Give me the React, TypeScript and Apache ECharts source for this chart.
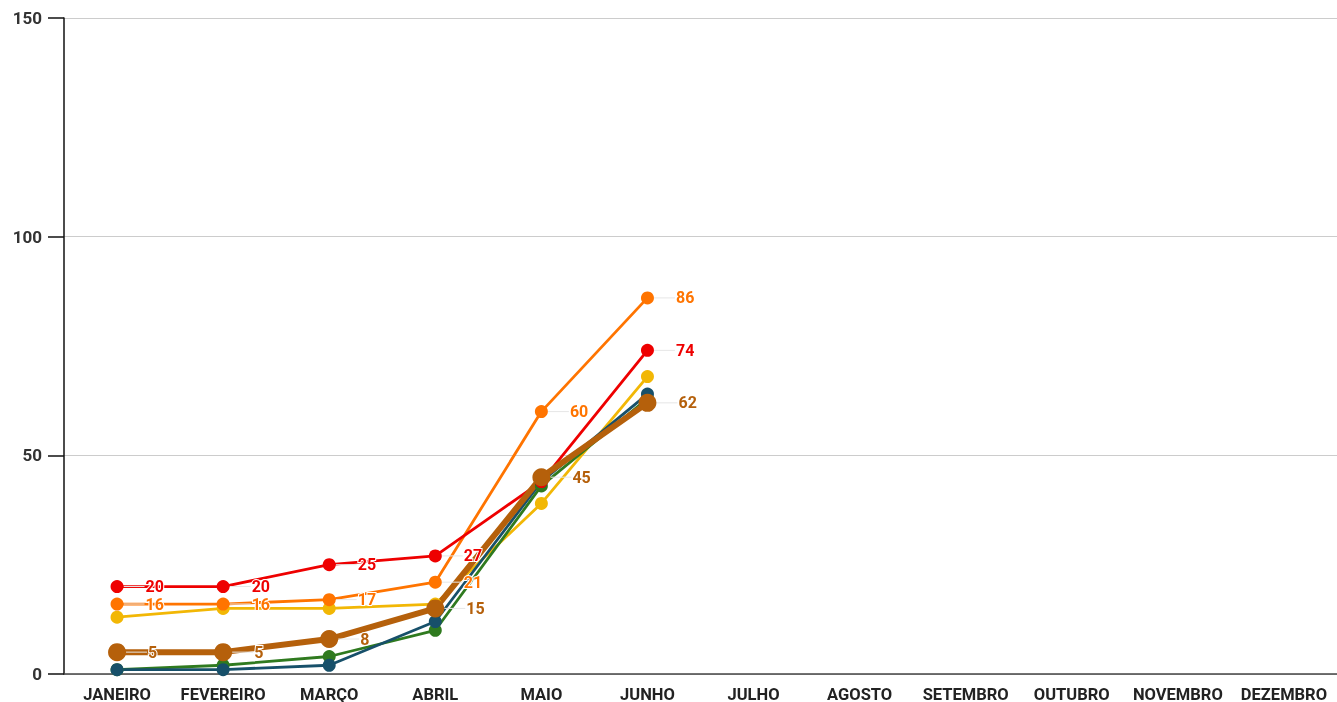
import React, { useEffect, useRef } from "react";
import * as echarts from "echarts";

const months = ["JANEIRO", "FEVEREIRO", "MARÇO", "ABRIL", "MAIO", "JUNHO", "JULHO", "AGOSTO", "SETEMBRO", "OUTUBRO", "NOVEMBRO", "DEZEMBRO"];
const yellowValues = [13, 15, 15, 16, 39, 68];
const greenValues = [1, 2, 4, 10, 43, 63];
const tealValues = [1, 1, 2, 12, 44, 64];
const orangeValues = [16, 16, 17, 21, 60, 86];
const redValues = [20, 20, 25, 27, 44, 74];
const brownValues = [5, 5, 8, 15, 45, 62];
// indices whose data label is hidden behind another label in the reference
const redHiddenLabels = [4];

const labelCfg = (color: string) => ({
  show: true,
  position: "right" as const,
  distance: 8,
  color,
  fontFamily: "Roboto",
  fontWeight: "bold" as const,
  fontSize: 16,
  textBorderColor: "#fff",
  textBorderWidth: 2,
});

const labelLineCfg = { show: true, lineStyle: { color: "#e6e6e6", width: 1 } };

export default function App() {
  const ref = useRef<HTMLDivElement>(null);
  useEffect(() => {
    const chart = echarts.init(ref.current!, null, { renderer: "svg" });
    const thin = (name: string, data: any[], color: string, withLabel: boolean) => ({
      name,
      type: "line",
      data,
      symbol: "circle",
      symbolSize: 13,
      lineStyle: { color, width: 2.8 },
      itemStyle: { color },
      label: withLabel ? labelCfg(color) : { show: false },
      labelLayout: withLabel ? { dx: 14 } : undefined,
      labelLine: withLabel ? labelLineCfg : undefined,
    });
    const redData = redValues.map((v, i) =>
      redHiddenLabels.includes(i) ? { value: v, label: { show: false }, labelLine: { show: false } } : v
    );
    chart.setOption({
      animation: false,
      textStyle: { fontFamily: "Roboto" },
      grid: { left: 64, right: 0, top: 18, bottom: 28, outerBoundsMode: "none" },
      xAxis: {
        type: "category",
        data: months,
        axisLine: { lineStyle: { color: "#444", width: 1.5 } },
        axisTick: { show: false },
        axisLabel: { color: "#222", fontWeight: "bold", fontSize: 16.5, lineHeight: 16, fontFamily: "Roboto", margin: 12, interval: 0 },
      },
      yAxis: {
        type: "value",
        min: 0,
        max: 150,
        interval: 50,
        axisLine: { show: true, lineStyle: { color: "#111", width: 1.5 } },
        axisTick: { show: true, length: 16, lineStyle: { color: "#111", width: 1.5 } },
        axisLabel: { color: "#333", fontWeight: "bold", fontSize: 17, fontFamily: "Roboto", margin: 22 },
        splitLine: { lineStyle: { color: "#cccccc", width: 1 } },
      },
      series: [
        thin("Amarelo", yellowValues, "#f2b705", false),
        thin("Verde", greenValues, "#2f7a1f", false),
        thin("Azul", tealValues, "#17506a", false),
        thin("Laranja", orangeValues, "#ff7400", true),
        thin("Vermelho", redData, "#ee0000", true),
        {
          name: "Marrom",
          type: "line",
          data: brownValues,
          symbol: "circle",
          symbolSize: 18,
          lineStyle: { color: "#b5600b", width: 6 },
          itemStyle: { color: "#b5600b" },
          label: labelCfg("#b5600b"),
          labelLayout: { dx: 14 },
          labelLine: labelLineCfg,
        },
      ],
    });
    return () => chart.dispose();
  }, []);
  return <div ref={ref} style={{ position: "fixed", left: 0, top: 0, width: 1337, height: 702 }} />;
}
